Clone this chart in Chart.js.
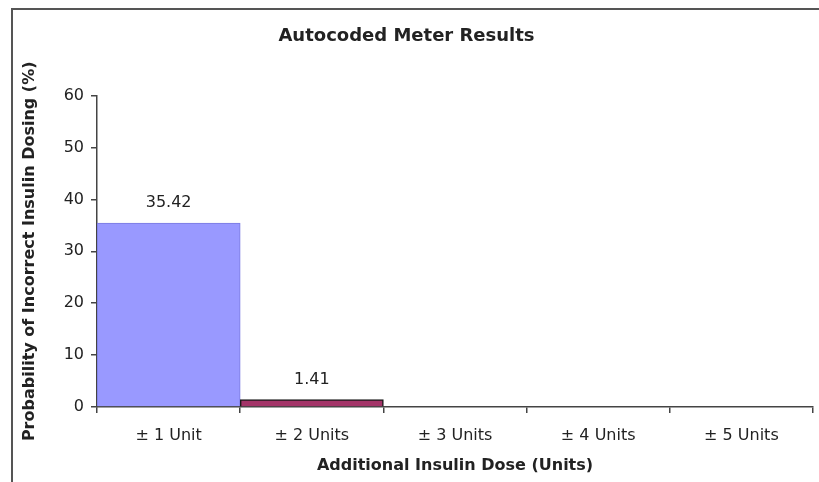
<!DOCTYPE html>
<html>
<head>
<meta charset="utf-8">
<title>Autocoded Meter Results</title>
<script src="https://cdn.jsdelivr.net/npm/chart.js@4/dist/chart.umd.min.js"></script>
<style>
  html, body { margin: 0; padding: 0; background: #ffffff; }
  #wrap { width: 819px; height: 482px; position: relative; }
</style>
</head>
<body>
<div id="wrap"><canvas id="chart"></canvas></div>
<script>
// Chart content
const chartTitle = 'Autocoded Meter Results';
const xAxisTitle = 'Additional Insulin Dose (Units)';
const yAxisTitle = 'Probability of Incorrect Insulin Dosing (%)';
const categories = ['± 1 Unit', '± 2 Units', '± 3 Units', '± 4 Units', '± 5 Units'];
const probabilities = [35.42, 1.41, 0, 0, 0];
const yTicks = [0, 10, 20, 30, 40, 50, 60];

const barFills = ['#9999FF', '#A33468', '#FFFFCC', '#CCFFFF', '#660066'];
const barEdges = ['#7a7ae0', '#1a1a1a', '#1a1a1a', '#1a1a1a', '#1a1a1a'];
const barEdgeWidths = [1, 1.5, 0, 0, 0];

const FONT = '"DejaVu Sans", "Liberation Sans", Arial, sans-serif';
const INK = '#222222';
const AXIS = '#444444';

// White page, plus the grey frame along the top and left edges
const framePlugin = {
  id: 'frame',
  beforeDraw(chart) {
    const ctx = chart.ctx;
    ctx.save();
    ctx.fillStyle = '#ffffff';
    ctx.fillRect(0, 0, chart.width, chart.height);
    ctx.restore();
  },
  afterDraw(chart) {
    const ctx = chart.ctx;
    ctx.save();
    ctx.strokeStyle = '#555555';
    ctx.lineWidth = 2;
    ctx.beginPath();
    ctx.moveTo(12, chart.height);
    ctx.lineTo(12, 9);
    ctx.lineTo(chart.width, 9);
    ctx.stroke();
    ctx.restore();
  }
};

// Value labels above each non-zero bar
const valueLabels = {
  id: 'valueLabels',
  afterDatasetsDraw(chart) {
    const ctx = chart.ctx;
    const meta = chart.getDatasetMeta(0);
    const data = chart.data.datasets[0].data;
    ctx.save();
    ctx.font = '16px ' + FONT;
    ctx.fillStyle = INK;
    ctx.textAlign = 'center';
    ctx.textBaseline = 'alphabetic';
    meta.data.forEach((bar, i) => {
      const v = data[i];
      if (!v) return;
      ctx.fillText(v.toFixed(2), bar.x, bar.y - 16);
    });
    ctx.restore();
  }
};

// Empty categories get no visible bar
const fillFor = c => (c.raw ? barFills[c.dataIndex] : 'rgba(0,0,0,0)');
const edgeFor = c => (c.raw ? barEdges[c.dataIndex] : 'rgba(0,0,0,0)');

new Chart(document.getElementById('chart'), {
  type: 'bar',
  data: {
    labels: categories,
    datasets: [{
      data: probabilities,
      backgroundColor: fillFor,
      borderColor: edgeFor,
      borderWidth: barEdgeWidths,
      barPercentage: 1,
      categoryPercentage: 1
    }]
  },
  options: {
    responsive: true,
    maintainAspectRatio: false,
    animation: false,
    layout: { padding: { left: 0, right: 6, top: 0, bottom: 0 } },
    plugins: {
      legend: { display: false },
      tooltip: { enabled: false },
      title: {
        display: true,
        text: chartTitle,
        color: INK,
        font: { family: FONT, size: 18, weight: 'bold' },
        padding: { top: 26, bottom: 48 }
      }
    },
    scales: {
      x: {
        afterFit(scale) { scale.height = 75; },
        grid: {
          display: true,
          offset: true,
          drawOnChartArea: false,
          drawTicks: true,
          tickLength: 6,
          color: AXIS,
          lineWidth: 1.5
        },
        border: { display: true, color: AXIS, width: 1.5 },
        ticks: {
          color: INK,
          font: { family: FONT, size: 16 },
          padding: 13,
          maxRotation: 0,
          autoSkip: false
        },
        title: {
          display: true,
          text: xAxisTitle,
          color: INK,
          font: { family: FONT, size: 16, weight: 'bold' },
          padding: { top: 0, bottom: 7 }
        }
      },
      y: {
        min: yTicks[0],
        max: yTicks[yTicks.length - 1],
        afterFit(scale) { scale.width = 97; },
        afterBuildTicks(scale) { scale.ticks = yTicks.map(v => ({ value: v })); },
        grid: {
          display: true,
          drawOnChartArea: false,
          drawTicks: true,
          tickLength: 6,
          color: AXIS,
          lineWidth: 1.5
        },
        border: { display: true, color: AXIS, width: 1.5 },
        ticks: {
          color: INK,
          font: { family: FONT, size: 16 },
          padding: 7
        },
        title: {
          display: true,
          text: yAxisTitle,
          color: INK,
          font: { family: FONT, size: 16, weight: 'bold' },
          padding: { top: 20, bottom: 0 }
        }
      }
    }
  },
  plugins: [framePlugin, valueLabels]
});
</script>
</body>
</html>
